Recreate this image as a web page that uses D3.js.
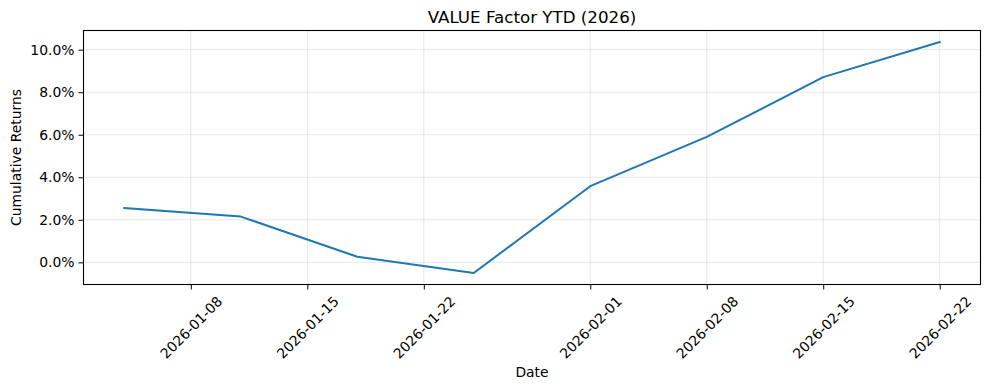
<!DOCTYPE html>
<html>
<head>
<meta charset="utf-8">
<script src="https://cdn.jsdelivr.net/npm/d3@7"></script>
<style>
  html, body { margin: 0; padding: 0; background: #fff; }
  svg { display: block; font-family: "DejaVu Sans", sans-serif; }
</style>
</head>
<body>
<div id="chart"></div>
<script>
// weekly observations (Sundays)
const dates = ["2026-01-04", "2026-01-11", "2026-01-18", "2026-01-25",
               "2026-02-01", "2026-02-08", "2026-02-15", "2026-02-22"];
const cumReturns = [2.55, 2.15, 0.26, -0.50, 3.58, 5.90, 8.71, 10.36];
const xTickLabels = ["2026-01-08", "2026-01-15", "2026-01-22",
                     "2026-02-01", "2026-02-08", "2026-02-15", "2026-02-22"];
const yTickValues = [0, 2, 4, 6, 8, 10];

const W = 989, H = 390;
const margin = { top: 30.5, right: 8.5, bottom: 105.5, left: 83.5 };
const innerW = W - margin.left - margin.right;
const innerH = H - margin.top - margin.bottom;

const parse = s => { const [y, m, d] = s.split("-").map(Number); return new Date(Date.UTC(y, m - 1, d)); };
const points = dates.map((d, i) => ({ date: parse(d), value: cumReturns[i] }));

// matplotlib style 5% margins
const xExt = d3.extent(points, d => d.date.getTime());
const xPad = (xExt[1] - xExt[0]) * 0.05;
const yExt = d3.extent(points, d => d.value);
const yPad = (yExt[1] - yExt[0]) * 0.05;

const x = d3.scaleUtc()
    .domain([new Date(xExt[0] - xPad), new Date(xExt[1] + xPad)])
    .range([0, innerW]);
const y = d3.scaleLinear()
    .domain([yExt[0] - yPad, yExt[1] + yPad])
    .range([innerH, 0]);

const svg = d3.select("#chart").append("svg")
    .attr("width", W)
    .attr("height", H);

const g = svg.append("g")
    .attr("transform", `translate(${margin.left},${margin.top})`);

// grid
const xTicks = xTickLabels.map(parse);
g.append("g").selectAll("line.vgrid")
    .data(xTicks)
    .join("line")
    .attr("x1", d => x(d)).attr("x2", d => x(d))
    .attr("y1", 0).attr("y2", innerH)
    .attr("stroke", "#b0b0b0").attr("stroke-opacity", 0.3).attr("stroke-width", 1);
g.append("g").selectAll("line.hgrid")
    .data(yTickValues)
    .join("line")
    .attr("x1", 0).attr("x2", innerW)
    .attr("y1", d => y(d)).attr("y2", d => y(d))
    .attr("stroke", "#b0b0b0").attr("stroke-opacity", 0.3).attr("stroke-width", 1);

// the line
const line = d3.line()
    .x(d => x(d.date))
    .y(d => y(d.value));
g.append("path")
    .datum(points)
    .attr("fill", "none")
    .attr("stroke", "#1f77b4")
    .attr("stroke-width", 2)
    .attr("stroke-linejoin", "round")
    .attr("stroke-linecap", "square")
    .attr("d", line);

// axes
const yAxis = g.append("g")
    .call(d3.axisLeft(y).tickValues(yTickValues).tickSize(5).tickPadding(4)
        .tickFormat(d => d.toFixed(1) + "%"));
const xAxis = g.append("g")
    .attr("transform", `translate(0,${innerH})`)
    .call(d3.axisBottom(x).tickValues(xTicks).tickSize(5).tickFormat(d3.utcFormat("%Y-%m-%d")));

[xAxis, yAxis].forEach(a => {
    a.select(".domain").remove();
    a.selectAll(".tick line").attr("stroke", "#000").attr("stroke-width", 1);
    a.selectAll(".tick text").attr("fill", "#000").style("font-size", "13.9px").style("font-family", "DejaVu Sans");
});

// rotated date labels, bbox centered under tick like matplotlib
xAxis.selectAll(".tick text").each(function () {
    const t = d3.select(this);
    const w = this.getComputedTextLength();
    const h = 13.9;
    const boxH = (w + h) * Math.SQRT1_2;
    t.attr("y", null).attr("dy", "0.35em")
        .attr("text-anchor", "middle")
        .attr("transform", `translate(0,${9.5 + boxH / 2}) rotate(-45)`);
});

// frame
g.append("rect")
    .attr("width", innerW).attr("height", innerH)
    .attr("fill", "none").attr("stroke", "#000").attr("stroke-width", 1.1);

// title and labels
svg.append("text")
    .attr("x", margin.left + innerW / 2).attr("y", 23)
    .attr("text-anchor", "middle")
    .style("font-size", "16.7px")
    .text("VALUE Factor YTD (2026)");
svg.append("text")
    .attr("x", margin.left + innerW / 2).attr("y", 377)
    .attr("text-anchor", "middle")
    .style("font-size", "13.9px")
    .text("Date");
svg.append("text")
    .attr("transform", `translate(21,${margin.top + innerH / 2}) rotate(-90)`)
    .attr("text-anchor", "middle")
    .style("font-size", "13.9px")
    .text("Cumulative Returns");
</script>
</body>
</html>
